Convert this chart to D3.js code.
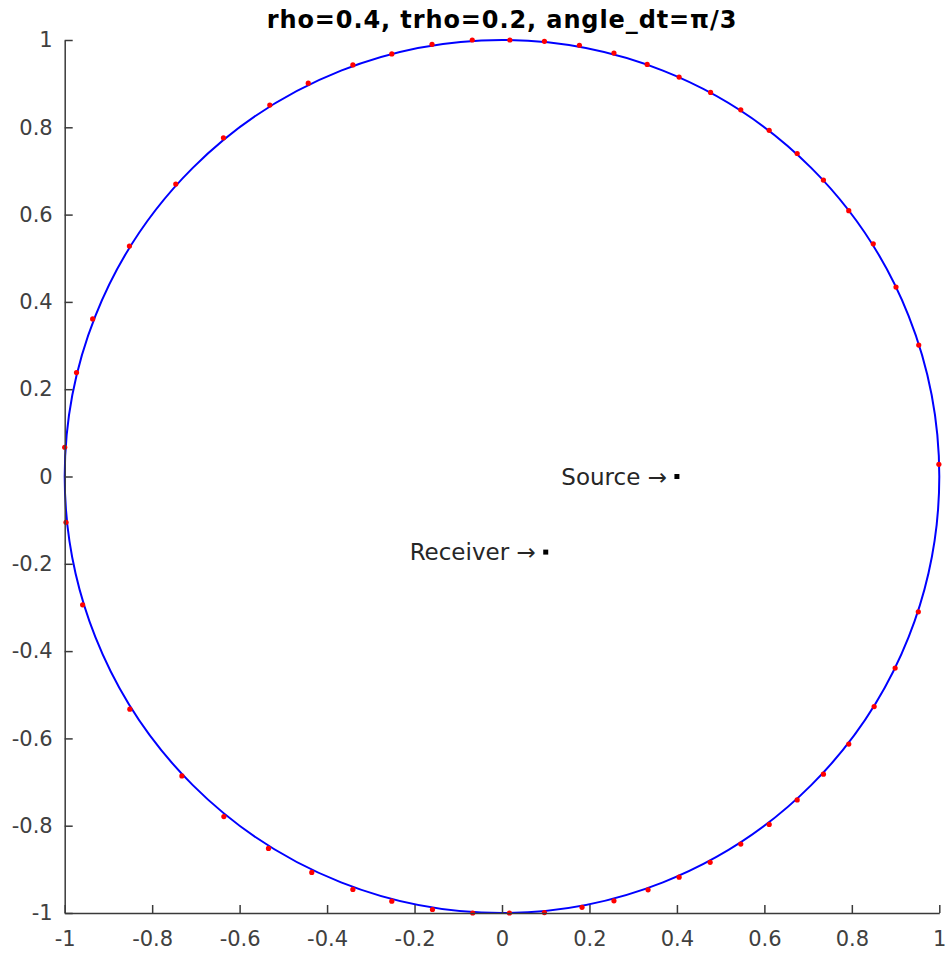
<!DOCTYPE html>
<html>
<head>
<meta charset="utf-8">
<script src="https://cdn.jsdelivr.net/npm/d3@7"></script>
<style>
  html, body { margin: 0; padding: 0; background: #fff; }
  svg { display: block; font-family: "DejaVu Sans", sans-serif; }
</style>
</head>
<body>
<svg id="chart" width="948" height="956"></svg>
<script>
// ---- Data ----
const titleText = "rho=0.4, trho=0.2, angle_dt=\u03c0/3";
const xTicks = [-1, -0.8, -0.6, -0.4, -0.2, 0, 0.2, 0.4, 0.6, 0.8, 1];
const yTicks = [-1, -0.8, -0.6, -0.4, -0.2, 0, 0.2, 0.4, 0.6, 0.8, 1];

// boundary circle: center and radius (unit circle)
const circleCenter = [0, 0];
const circleRadius = 1;

// red sample points on the boundary
const pointsX = [-0.068, 0.018, 0.097, 0.177, 0.256, 0.332, 0.405, 0.477, 0.546, 0.611,
  0.675, 0.735, 0.793, 0.849, 0.901, 0.953, 0.999, 0.952, 0.899, 0.851,
  0.793, 0.735, 0.675, 0.611, 0.546, 0.476, 0.405, 0.334, 0.256, 0.183,
  0.097, 0.017, -0.067, -0.159, -0.252, -0.341, -0.435, -0.534, -0.636, -0.732,
  -0.851, -0.959, -0.997, -1.0, -0.973, -0.936, -0.852, -0.746, -0.637, -0.531,
  -0.443, -0.341, -0.252, -0.160];
const pointsY = [1.0, 1.0, 0.997, 0.988, 0.970, 0.944, 0.915, 0.880, 0.840, 0.793,
  0.740, 0.679, 0.609, 0.533, 0.434, 0.301, 0.028, -0.310, -0.439, -0.527,
  -0.613, -0.682, -0.741, -0.797, -0.842, -0.884, -0.918, -0.947, -0.972, -0.987,
  -0.999, -1.0, -1.0, -0.992, -0.973, -0.946, -0.907, -0.852, -0.779, -0.686,
  -0.533, -0.294, -0.105, 0.067, 0.238, 0.361, 0.528, 0.670, 0.776, 0.851,
  0.901, 0.943, 0.968, 0.990];

// annotated markers
const annNames = ["Source", "Receiver"];
const annX = [0.4, 0.1];
const annY = [0, -0.1732];

// ---- Layout ----
const svg = d3.select("#chart");
svg.append("rect").attr("width", 948).attr("height", 956).attr("fill", "#fff");

const x = d3.scaleLinear().domain([-1, 1]).range([64.7, 939.3]);
const y = d3.scaleLinear().domain([-1, 1]).range([913, 40]);

const axisColor = "#3a3a3a";
const fmt = d => String(+d.toFixed(1));

// boundary circle
svg.append("ellipse")
  .attr("cx", x(circleCenter[0]))
  .attr("cy", y(circleCenter[1]))
  .attr("rx", x(circleRadius) - x(0))
  .attr("ry", y(0) - y(circleRadius))
  .attr("fill", "none")
  .attr("stroke", "#0000ff")
  .attr("stroke-width", 2);

// red points
svg.append("g").selectAll("circle")
  .data(pointsX.map((v, i) => [v, pointsY[i]]))
  .join("circle")
  .attr("cx", d => x(d[0]))
  .attr("cy", d => y(d[1]))
  .attr("r", 2.6)
  .attr("fill", "#ff0000");

// axes
const gx = svg.append("g")
  .attr("transform", `translate(0,${y(-1)})`)
  .call(d3.axisBottom(x).tickValues(xTicks).tickFormat(fmt)
    .tickSizeInner(-8).tickSizeOuter(0).tickPadding(18));
const gy = svg.append("g")
  .attr("transform", `translate(${x(-1)},0)`)
  .call(d3.axisLeft(y).tickValues(yTicks).tickFormat(fmt)
    .tickSizeInner(-8).tickSizeOuter(0).tickPadding(12));

[gx, gy].forEach(g => {
  g.select(".domain").attr("stroke", axisColor).attr("stroke-width", 1.5);
  g.selectAll(".tick line").attr("stroke", axisColor).attr("stroke-width", 1.5);
  g.selectAll(".tick text")
    .attr("fill", "#404040")
    .style("font-family", "'DejaVu Sans', sans-serif")
    .style("font-size", "21px");
});

// annotations
const ann = svg.append("g");
annNames.forEach((name, i) => {
  ann.append("rect")
    .attr("x", x(annX[i]) - 2.5)
    .attr("y", y(annY[i]) - 2.5)
    .attr("width", 5)
    .attr("height", 5)
    .attr("fill", "#000");
  ann.append("text")
    .attr("x", x(annX[i]) - 10)
    .attr("y", y(annY[i]))
    .attr("dy", "0.36em")
    .attr("text-anchor", "end")
    .attr("fill", "#262626")
    .style("font-size", "23px")
    .text(name + " \u2192");
});

// title
svg.append("text")
  .attr("x", (x(-1) + x(1)) / 2)
  .attr("y", 28)
  .attr("text-anchor", "middle")
  .attr("fill", "#000")
  .style("font-size", "24px")
  .style("font-weight", "bold")
  .style("letter-spacing", "0.9px")
  .text(titleText);
</script>
</body>
</html>
